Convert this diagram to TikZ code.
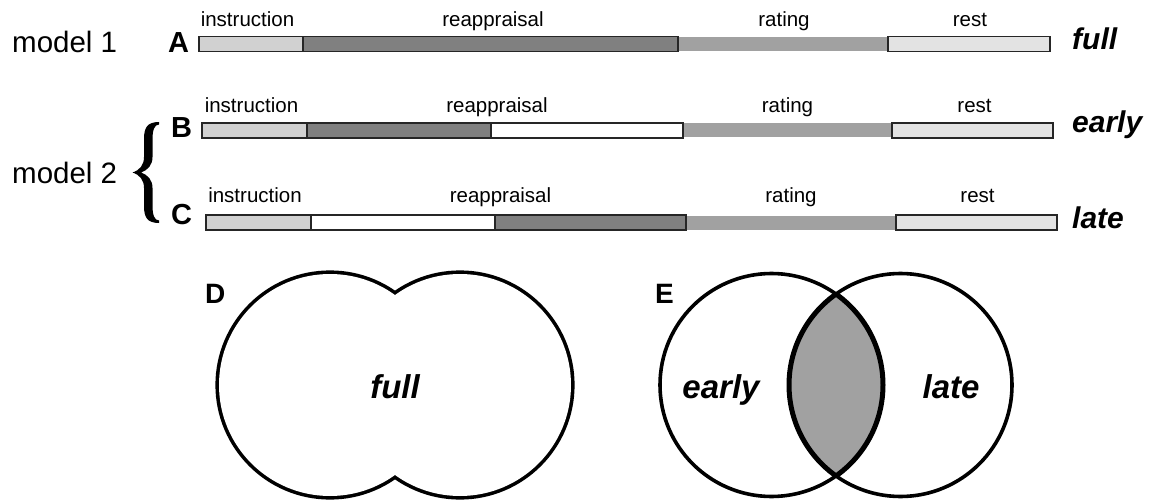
\documentclass[tikz,border=0pt]{standalone}
\usepackage{fontspec}
\setmainfont{Liberation Sans}
\begin{document}
\begin{tikzpicture}[x=1pt,y=-1pt,
  seglabel/.style={anchor=base,inner sep=0pt,font=\fontsize{20.5}{22}\selectfont},
  rowletter/.style={anchor=base west,inner sep=0pt,font=\fontsize{29}{30}\selectfont\bfseries},
  modelname/.style={anchor=base west,inner sep=0pt,font=\fontsize{29.5}{31}\selectfont},
  condname/.style={anchor=base west,inner sep=0pt,font=\fontsize{30}{32}\selectfont\bfseries\itshape},
  vennlabel/.style={anchor=base,inner sep=0pt,font=\fontsize{33}{35}\selectfont\bfseries\itshape},
  panel/.style={anchor=base west,inner sep=0pt,font=\fontsize{28}{30}\selectfont\bfseries},
  seg/.style={draw=black!85,line width=1.3pt},
  instr/.style={seg,fill=black!18},
  reapp/.style={seg,fill=black!50},
  blank/.style={seg,fill=white},
  rate/.style={fill=black!37},
  restseg/.style={seg,fill=black!11},
  circ/.style={line width=3.6pt,draw=black}
]
\useasboundingbox (0,0) rectangle (1149,500);

% ---- row A: model 1, full ----
\fill[rate] (678,37) rectangle (888,51);
\draw[instr] (199,36.5) rectangle (303,51.5);
\draw[reapp] (303,36.5) rectangle (678,51.5);
\draw[restseg] (888,36.5) rectangle (1050,51.5);
\node[seglabel] (a-ins) at (247.5,27) {instruction};
\node[seglabel] (a-rea) at (493,27) {reappraisal};
\node[seglabel] (a-rat) at (784,27) {rating};
\node[seglabel] (a-res) at (970,27) {rest};
\node[rowletter] (la) at (168,53) {A};
\node[modelname] (m1) at (12,53) {model 1};
\node[condname] (ca) at (1072,50) {full};

% ---- row B: early ----
\fill[rate] (683,123.5) rectangle (892,137.5);
\draw[instr] (202,123) rectangle (307,138);
\draw[reapp] (307,123) rectangle (491,138);
\draw[blank] (491,123) rectangle (683,138);
\draw[restseg] (892,123) rectangle (1053,138);
\node[seglabel] (b-ins) at (251.5,113) {instruction};
\node[seglabel] (b-rea) at (497,113) {reappraisal};
\node[seglabel] (b-rat) at (787.5,113) {rating};
\node[seglabel] (b-res) at (974.5,113) {rest};
\node[rowletter] (lb) at (171,138) {B};
\node[condname] (cb) at (1072,133) {early};

% ---- row C: late ----
\fill[rate] (686,215.5) rectangle (896,229.5);
\draw[instr] (206,215) rectangle (311,230);
\draw[blank] (311,215) rectangle (495,230);
\draw[reapp] (495,215) rectangle (686,230);
\draw[restseg] (896,215) rectangle (1057,230);
\node[seglabel] (c-ins) at (255,203) {instruction};
\node[seglabel] (c-rea) at (500.5,203) {reappraisal};
\node[seglabel] (c-rat) at (791,203) {rating};
\node[seglabel] (c-res) at (977.5,203) {rest};
\node[rowletter] (lc) at (171,224) {C};
\node[condname] (cc) at (1072,228) {late};

% ---- model 2 with curly brace ----
\node[modelname] (m2) at (12,183) {model 2};
\fill (159,122) .. controls (147,122) and (144,128) .. (144,139)
  -- (144,157) .. controls (144,165) and (140,170) .. (132.5,172.5)
  .. controls (140,175) and (144,180) .. (144,188)
  -- (144,206) .. controls (144,217) and (147,223) .. (159,223)
  -- (159,220.5) .. controls (154.5,220.5) and (152.5,215) .. (152.5,206)
  -- (152.5,188) .. controls (152.5,180) and (148,175) .. (141,172.5)
  .. controls (148,170) and (152.5,165) .. (152.5,157)
  -- (152.5,139) .. controls (152.5,130) and (154.5,124.5) .. (159,124.5) -- cycle;

% ---- D: union of the two models (outer outline only) ----
\coordinate (dl) at (330,385);
\coordinate (dr) at (460,385);
\draw[line width=7.2pt] (dl) circle (111) (dr) circle (111);
\fill[white] (dl) circle (111) (dr) circle (111);
\node[panel] (pd) at (205,303) {D};
\node[vennlabel] (vfull) at (395,398) {full};

% ---- E: early and late overlap ----
\coordinate (el) at (771.5,385);
\coordinate (er) at (900.5,385);
\begin{scope}
  \clip (el) circle (111.5);
  \fill[black!37] (er) circle (111.5);
  \draw[line width=5pt] (er) circle (111.5);
\end{scope}
\begin{scope}
  \clip (er) circle (111.5);
  \draw[line width=5pt] (el) circle (111.5);
\end{scope}
\draw[circ] (el) circle (111.5);
\draw[circ] (er) circle (111.5);
\node[panel] (pe) at (655,303) {E};
\node[vennlabel] (vearly) at (721,398) {early};
\node[vennlabel] (vlate) at (951,398) {late};
\end{tikzpicture}
\end{document}
